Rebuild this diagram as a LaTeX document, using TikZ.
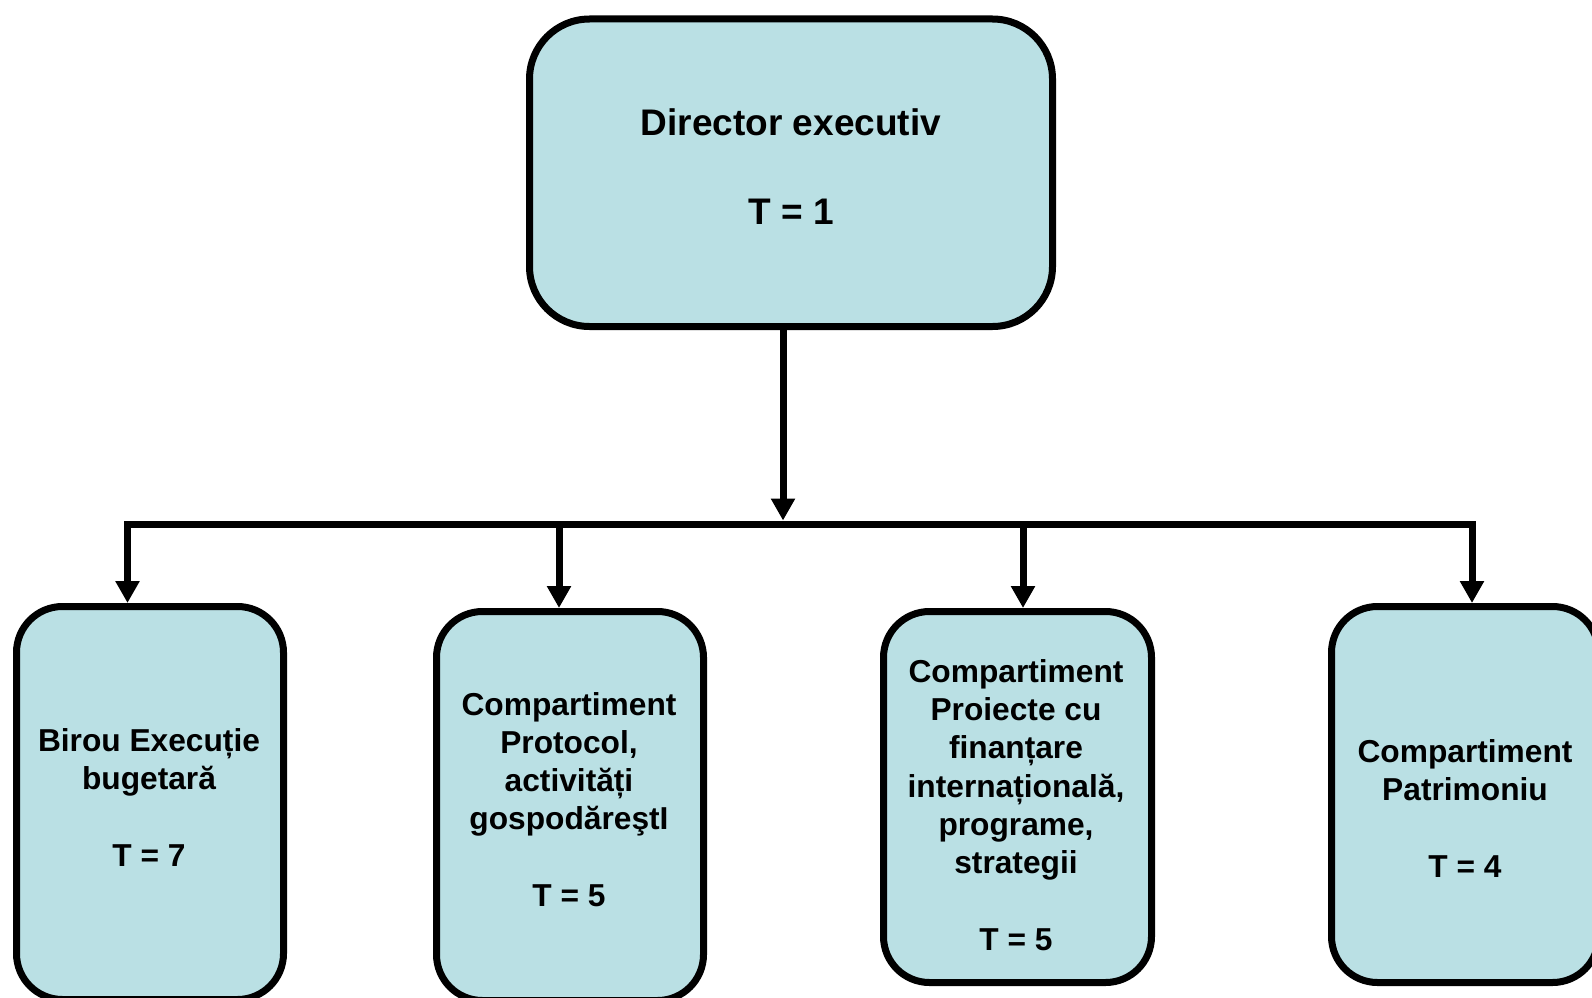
\documentclass[tikz,border=0pt]{standalone}
\usepackage{fontspec}
\setmainfont{Liberation Sans}
\usetikzlibrary{arrows.meta}
\definecolor{boxfill}{RGB}{186,224,228}
\tikzset{
  orgbox/.style={draw=black, line width=7pt, fill=boxfill, rounded corners=46pt, inner sep=0pt},
  topbox/.style={orgbox, rounded corners=60pt},
  lbl/.style={align=center, inner sep=0pt, font=\bfseries\fontsize{31.7pt}{38.3pt}\selectfont},
  toplbl/.style={align=center, inner sep=0pt, font=\bfseries\fontsize{37pt}{44.7pt}\selectfont},
  conn/.style={line width=7pt, draw=black},
  arr/.style={conn, -{Triangle[width=23pt,length=22pt]}},
  arrboth/.style={conn, {Triangle[width=23pt,length=22pt]}-{Triangle[width=23pt,length=22pt]}}
}
\begin{document}
\begin{tikzpicture}[x=1pt,y=-1pt]
\useasboundingbox (0,0) rectangle (1592,998);
\clip (0,0) rectangle (1592,998);
\fill[white] (0,0) rectangle (1592,998);

% boxes
\node[topbox, minimum width=523pt, minimum height=307.5pt] (top) at (791,172.75) {};
\node[orgbox, minimum width=267pt, minimum height=393pt] (b1) at (150,803) {};
\node[orgbox, minimum width=267pt, minimum height=389pt] (b2) at (570,806) {};
\node[orgbox, minimum width=268pt, minimum height=371pt] (b3) at (1017.5,797) {};
\node[orgbox, minimum width=267pt, minimum height=376pt] (b4) at (1465,794.5) {};

% labels
\node[toplbl] (t0) at (791,166.5) {Director executiv\\[44.7pt]T = 1};
\node[lbl] (t1) at (149,797.5) {Birou Execuție\\bugetară\\[38.3pt]T = 7};
\node[lbl] (t2) at (569,799.5) {Compartiment\\Protocol,\\activități\\gospodăreştI\\[38.3pt]T = 5};
\node[lbl] (t3) at (1016,805) {Compartiment\\Proiecte cu\\finanțare\\internațională,\\programe,\\strategii\\[38.3pt]T = 5};
\node[lbl] (t4) at (1465,808.5) {Compartiment\\Patrimoniu\\[38.3pt]T = 4};

% connectors
\coordinate (bus) at (783,524);
\coordinate (j1) at (127.5,524);
\coordinate (j2) at (559,524);
\coordinate (j3) at (1023,524);
\coordinate (j4) at (1472,524);

\draw[arr, shorten >=3.5pt] (bus |- top.south) -- (bus);
\draw[arrboth] (j1 |- b1.north) -- (j1) -- (j4) -- (j4 |- b4.north);
\draw[arr] (j2) -- (j2 |- b2.north);
\draw[arr] (j3) -- (j3 |- b3.north);
\end{tikzpicture}
\end{document}
